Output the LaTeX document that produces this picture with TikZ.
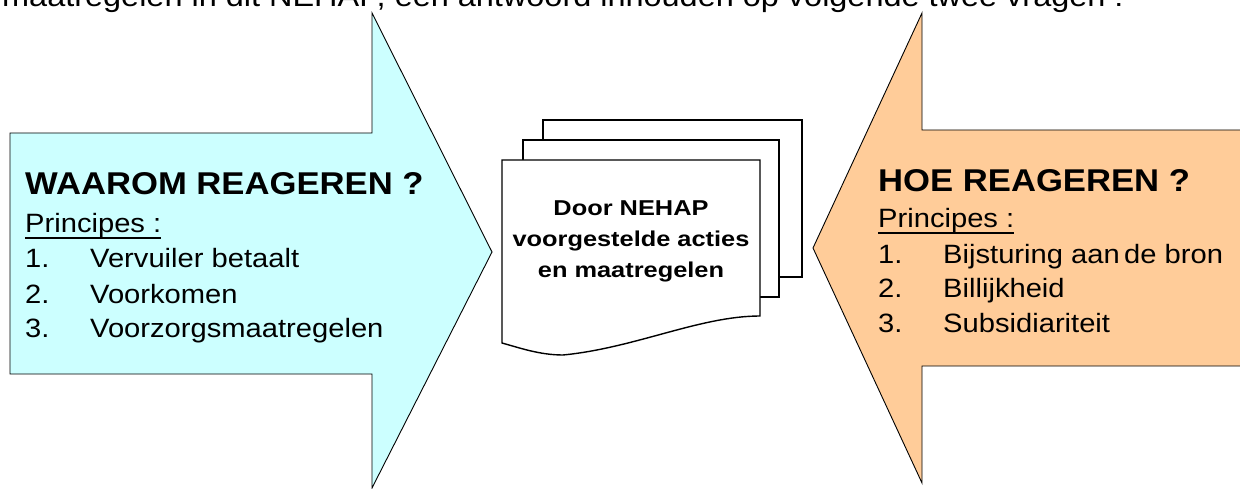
\documentclass[tikz,border=0pt]{standalone}
\usepackage{fontspec}
\setmainfont[FakeStretch=1.1]{Liberation Sans}
\newfontfamily\docfont[FakeStretch=1.18]{Liberation Sans}
\usetikzlibrary{positioning}
\definecolor{arrowcyan}{HTML}{CCFFFF}
\definecolor{arroworange}{HTML}{FFCC99}
\newcommand\ulprinc[1]{\setbox0\hbox{#1}\rlap{\rule[-6pt]{\wd0}{2pt}}\box0}

\begin{document}
\begin{tikzpicture}[
  x=1pt,y=-1pt,
  bigarrow/.style={draw=black,line width=0.9pt,fill=#1},
  sheet/.style={draw=black,line width=1.4pt,fill=white},
  head/.style={font=\fontsize{31.5}{36}\selectfont\bfseries,anchor=base west,inner sep=0pt},
  body/.style={font=\fontsize{26.5}{30}\selectfont,anchor=base west,inner sep=0pt},
  doctext/.style={font=\docfont\fontsize{21.5}{31}\selectfont\bfseries,align=center,inner sep=0pt}
  ]
  \useasboundingbox (0,0) rectangle (1240,489);
  \clip (0,0) rectangle (1240,489);

  \node[body,font=\fontsize{29.5}{33}\selectfont] (NIntro) at (2,7) {maatregelen in dit NEHAP, een antwoord inhouden op volgende twee vragen :};

  % the two big arrows
  \draw[bigarrow=arrowcyan] (10,133) -- (372,133) -- (372,13) -- (492,252)
    -- (372,488) -- (372,374) -- (10,374) -- cycle;
  \draw[bigarrow=arroworange] (1250,130) -- (922,130) -- (922,13) -- (813,248)
    -- (922,483) -- (922,366) -- (1250,366) -- cycle;

  % stack of sheets
  \draw[sheet] (543,120) rectangle (802,277);
  \draw[sheet] (523,140) rectangle (779,297);
  \draw[sheet] (502,160) -- (760,160) -- (760,316)
    .. controls (700,316) and (635,348) .. (563,355)
    .. controls (540,355) and (520,348) .. (502,343) -- cycle;
  \node[doctext] (NDoc) at (631,241) {Door NEHAP\\voorgestelde acties\\en maatregelen};

  % left arrow text
  \node[head] (NWaarom) at (25,195) {WAAROM REAGEREN ?};
  \path (NWaarom.base west) ++(0,38) node[body] (NWaaromP) {\ulprinc{Principes :}};
  \path (NWaaromP.base west) ++(0,35) node[body] (NWaarom1) {1.} ++(65,0) node[body] (NWaarom1t) {Vervuiler betaalt};
  \path (NWaarom1.base west) ++(0,35) node[body] (NWaarom2) {2.} ++(65,0) node[body] (NWaarom2t) {Voorkomen};
  \path (NWaarom2.base west) ++(0,34) node[body] (NWaarom3) {3.} ++(65,0) node[body] (NWaarom3t) {Voorzorgsmaatregelen};

  % right arrow text
  \node[head] (NHoe) at (878,192) {HOE REAGEREN ?};
  \path (NHoe.base west) ++(0,36) node[body] (NHoeP) {\ulprinc{Principes :}};
  \path (NHoeP.base west) ++(0,35) node[body] (NHoe1) {1.} ++(65,0) node[body] (NHoe1t) {Bijsturing aan\,de bron};
  \path (NHoe1.base west) ++(0,35) node[body] (NHoe2) {2.} ++(65,0) node[body] (NHoe2t) {Billijkheid};
  \path (NHoe2.base west) ++(0,34) node[body] (NHoe3) {3.} ++(65,0) node[body] (NHoe3t) {Subsidiariteit};
\end{tikzpicture}
\end{document}
